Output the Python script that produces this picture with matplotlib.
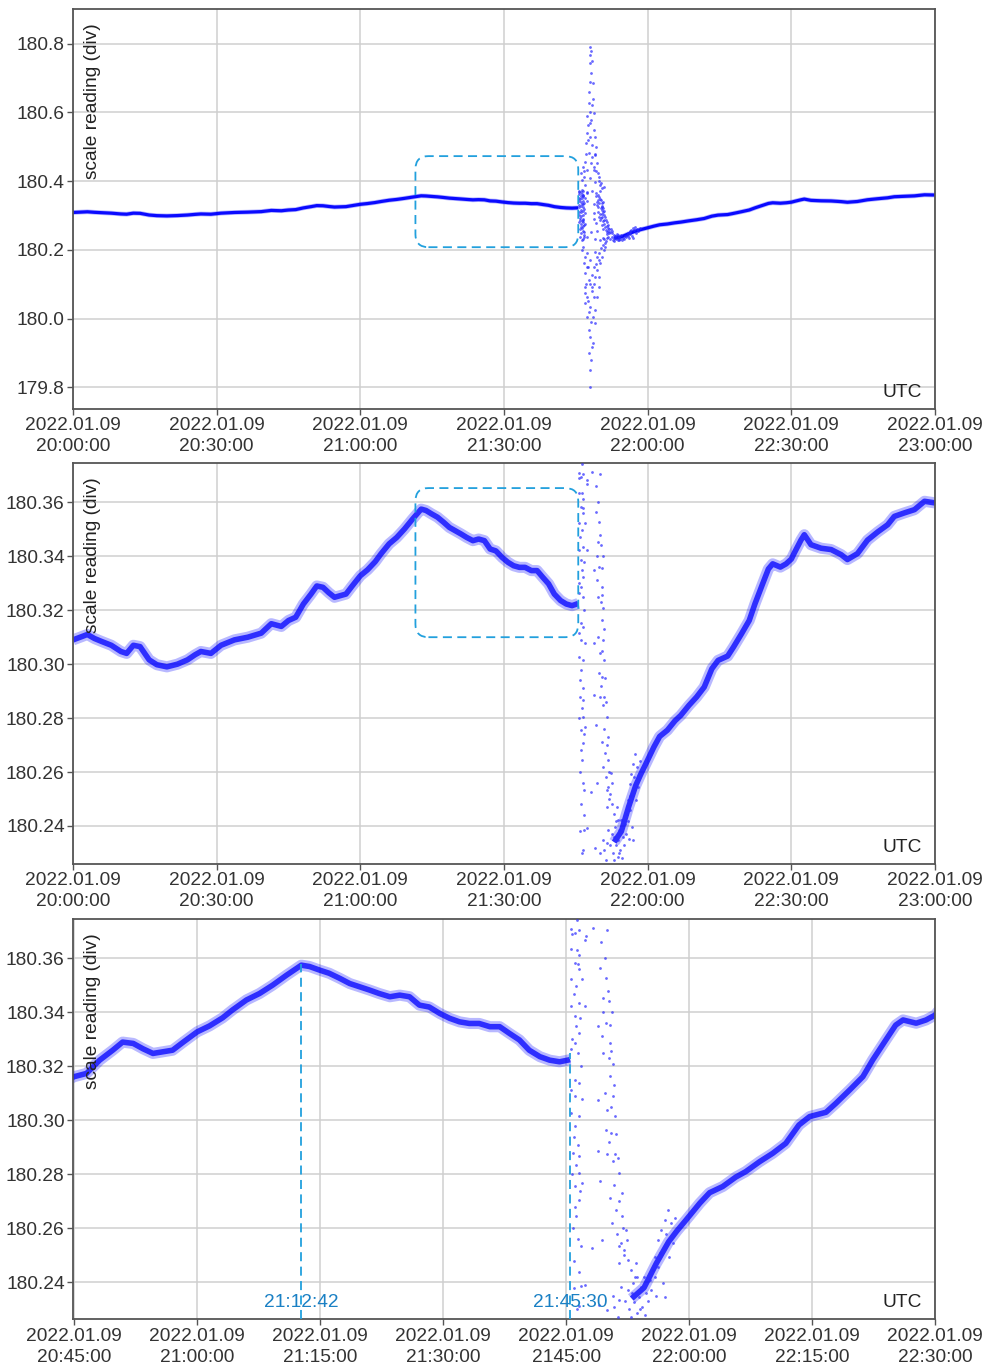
import numpy as np
import matplotlib
matplotlib.use("Agg")
import matplotlib.pyplot as plt
from matplotlib.patches import FancyBboxPatch

plt.rcParams['font.family'] = ['Liberation Sans', 'DejaVu Sans']
plt.rcParams['font.size'] = 13.8

# time axis: minutes after 2022.01.09 20:00:00 UTC
pre_t = [0, 1.5, 3, 4.5, 6, 8, 10, 11.2, 12.6, 14, 15.9, 17.5, 19.6, 21.8, 23.9, 25.5,
         26.7, 28.8, 30.9, 33.7, 36.5, 39.3, 41.4, 43.5, 45, 46.5, 48.1, 49.7, 50.9,
         52.2, 53.4, 54.6, 55.8, 57.0, 58.3, 60, 61.5, 63.1, 64.3, 66, 67.6, 69.2, 70.9,
         72.7, 73.7, 74.9, 76.1, 77.4, 78.6, 79.8, 81.0, 82.2, 83.5, 84.7, 85.9, 87.1,
         88.3, 89.6, 90.8, 92.0, 93.2, 94.4, 95.7, 96.9, 98.1, 99.3, 100.5, 101.8,
         103.0, 104.2, 105.5]
pre_v = [180.309, 180.310, 180.311, 180.3095, 180.3084, 180.307, 180.3047, 180.304,
         180.307, 180.3065, 180.3016, 180.2998, 180.299, 180.300, 180.3016, 180.3035,
         180.3047, 180.304, 180.307, 180.309, 180.310, 180.3115, 180.315, 180.314,
         180.3162, 180.3174, 180.3223, 180.326, 180.329, 180.3285, 180.3265, 180.3248,
         180.3254, 180.326, 180.329, 180.3328, 180.335, 180.338, 180.3409, 180.3446,
         180.347, 180.3501, 180.3538, 180.3575, 180.357, 180.3557, 180.3545, 180.3526,
         180.3507, 180.3495, 180.3483, 180.347, 180.3458, 180.3464, 180.3458, 180.3427,
         180.342, 180.3396, 180.3378, 180.3365, 180.3359, 180.3359, 180.3347, 180.3347,
         180.3322, 180.3298, 180.326, 180.3236, 180.3223, 180.3217, 180.3225]

post_t = [113.0, 114.5, 116.0, 117.5, 118.5, 119.6, 121.3, 122.5, 124.1, 125.7, 126.9,
          128.6, 130.2, 131.8, 133.4, 134.7, 136.7, 137.9, 139.6, 141.2, 142.4, 144.0,
          145.2, 146.1, 147.7, 148.9, 150.0, 150.6, 152.0, 152.7, 154.1, 156.2, 158.3,
          160.4, 161.7, 163.8, 165.9, 168.0, 170.1, 171.5, 173.6, 175.7, 177.8, 180.0]
post_v = [180.234, 180.238, 180.247, 180.255, 180.259, 180.263, 180.2693, 180.2732,
          180.2755, 180.279, 180.281, 180.2847, 180.2878, 180.2915, 180.2983, 180.3014,
          180.303, 180.3063, 180.3113, 180.3162, 180.3224, 180.3298, 180.3353, 180.3372,
          180.336, 180.3372, 180.339, 180.3412, 180.346, 180.348, 180.3443, 180.343,
          180.3425, 180.3406, 180.3388, 180.341, 180.346, 180.349, 180.3517, 180.3548,
          180.3561, 180.3573, 180.3604, 180.3598]

# scattered readings during the disturbance (t, value)
burst_col_a = [(106.34, 180.3742), (105.64, 180.3710), (106.55, 180.3705), (106.06, 180.3695),
               (107.39, 180.3683), (107.25, 180.3668), (105.64, 180.3636), (106.34, 180.3633),
               (106.55, 180.3611), (106.06, 180.3584), (106.55, 180.3559), (106.90, 180.3522),
               (105.64, 180.3522), (106.20, 180.3497), (106.55, 180.3436), (107.25, 180.3423),
               (105.64, 180.3423), (106.06, 180.3386), (106.20, 180.3349), (106.55, 180.3324),
               (106.06, 180.3287), (105.64, 180.3263), (106.76, 180.3201), (106.06, 180.3151),
               (106.55, 180.3139), (105.64, 180.3114), (106.06, 180.3090), (105.64, 180.3028),
               (106.55, 180.3015), (106.06, 180.2978), (105.85, 180.2879), (106.55, 180.2867),
               (106.20, 180.2836), (106.55, 180.2805), (106.90, 180.2768), (106.06, 180.2756),
               (106.55, 180.2706), (106.20, 180.2645), (106.76, 180.2533), (107.25, 180.2391),
               (106.76, 180.2385), (106.55, 180.2311),
               (105.75, 180.3690), (106.45, 180.3580), (105.90, 180.3470), (106.65, 180.3380),
               (105.75, 180.3300), (106.40, 180.3250), (106.90, 180.3080), (105.95, 180.2940),
               (106.40, 180.2910), (105.75, 180.2800), (106.70, 180.2740), (106.10, 180.2680),
               (105.80, 180.2600), (106.45, 180.2560), (106.00, 180.2480), (106.60, 180.2440),
               (105.90, 180.2380), (106.30, 180.2300)]
burst_col_b = [(108.29, 180.3714), (110.03, 180.3705), (109.13, 180.3565), (109.83, 180.3528),
               (109.55, 180.3454), (110.24, 180.3442), (108.85, 180.3349), (109.83, 180.3361),
               (110.38, 180.3355), (109.34, 180.3312), (110.38, 180.3287), (110.52, 180.3256),
               (109.55, 180.3250), (110.73, 180.3207), (110.38, 180.3164), (110.73, 180.3090),
               (108.85, 180.3077), (110.03, 180.3040), (110.94, 180.3015), (109.83, 180.2966),
               (110.52, 180.2954), (108.85, 180.2886), (110.03, 180.2877), (110.94, 180.2877),
               (110.73, 180.2849), (111.43, 180.2805), (109.13, 180.2774), (111.78, 180.2731),
               (110.38, 180.2713), (111.08, 180.2669), (111.78, 180.2645), (108.15, 180.2527),
               (112.33, 180.2595), (112.47, 180.2558), (109.34, 180.2558), (111.43, 180.2533),
               (109.00, 180.2317), (110.73, 180.2348), (110.03, 180.2299), (111.43, 180.2336),
               (109.30, 180.3660), (109.70, 180.3600), (110.10, 180.3480), (109.45, 180.3400),
               (110.60, 180.3400), (110.20, 180.3230), (110.90, 180.3130), (109.70, 180.3100),
               (110.50, 180.3050), (111.10, 180.2950), (110.20, 180.2920), (111.30, 180.2860),
               (110.80, 180.2760), (111.50, 180.2700), (110.60, 180.2620), (111.90, 180.2600),
               (111.20, 180.2580), (112.00, 180.2500)]
burst_cluster = [(111.7, 180.2544), (112.1, 180.2520), (112.5, 180.2483), (111.5, 180.2470),
                 (112.9, 180.2446), (113.5, 180.2470), (113.7, 180.2421), (113.1, 180.2396),
                 (114.1, 180.2384), (114.5, 180.2421), (114.8, 180.2359), (113.9, 180.2347),
                 (113.3, 180.2328), (114.3, 180.2310), (113.7, 180.2285), (112.9, 180.2273),
                 (111.3, 180.2273), (111.7, 180.2384), (110.9, 180.2310), (112.5, 180.2371),
                 (115.2, 180.2409), (115.6, 180.2446), (115.8, 180.2495), (116.2, 180.2557),
                 (116.6, 180.2594), (117.0, 180.2631), (117.4, 180.2668), (117.6, 180.2495),
                 (118.0, 180.2544), (116.2, 180.2458), (116.8, 180.2396), (117.0, 180.2347),
                 (115.4, 180.2372), (112.2, 180.2330), (113.0, 180.2360), (114.0, 180.2300),
                 (114.6, 180.2280), (115.0, 180.2330), (115.9, 180.2420), (116.4, 180.2510),
                 (117.2, 180.2580), (117.8, 180.2620), (118.3, 180.2640), (116.0, 180.2350),
                 (113.4, 180.2420), (112.7, 180.2300)]
burst_wide = [(108.0, 180.7914), (108.0, 180.7671), (108.0, 180.7429), (108.2, 180.7138),
              (108.5, 180.6847), (107.67, 180.6604), (107.8, 180.6265), (108.36, 180.6216),
              (108.0, 180.6022), (108.7, 180.5974), (108.2, 180.5780), (107.5, 180.5634),
              (107.3, 180.5392), (108.7, 180.5489), (108.0, 180.5295), (109.06, 180.5295),
              (107.1, 180.5101), (108.36, 180.5052), (109.2, 180.5004), (107.67, 180.4810),
              (108.9, 180.4761), (107.0, 180.4567), (108.2, 180.4518), (109.4, 180.4518),
              (107.3, 180.4324), (108.7, 180.4324), (109.6, 180.4228), (106.6, 180.4130),
              (108.0, 180.4082), (109.06, 180.3985), (106.14, 180.4228), (106.4, 180.4420),
              (106.27, 180.4033), (106.83, 180.3888), (109.9, 180.4130), (110.3, 180.3937),
              (110.8, 180.3840),
              (106.8, 180.4300), (107.2, 180.4800), (107.6, 180.5200), (108.4, 180.4700),
              (108.8, 180.4400), (109.3, 180.4300), (109.8, 180.4000), (107.9, 180.5700),
              (108.6, 180.6400), (107.9, 180.6900), (108.3, 180.7500), (108.1, 180.7800),
              (107.4, 180.5900), (109.0, 180.4800), (110.0, 180.3900), (110.5, 180.3800),
              (106.27, 180.1996), (107.32, 180.1899), (109.06, 180.1948), (109.75, 180.1705),
              (106.62, 180.1608), (108.0, 180.1705), (108.71, 180.1511), (106.97, 180.1317),
              (109.41, 180.1414), (107.67, 180.1123), (109.06, 180.1220), (106.83, 180.0929),
              (108.36, 180.0929), (109.75, 180.0929), (107.32, 180.0638), (108.71, 180.0638),
              (106.97, 180.0444), (108.0, 180.0347), (109.06, 180.0250), (107.32, 180.0056),
              (108.5, 180.0056), (107.67, 179.9668), (109.06, 179.9862), (108.0, 179.9474),
              (108.36, 179.9183), (107.8, 179.8989), (108.0, 179.8504), (108.0, 179.8019),
              (106.97, 180.0735), (109.41, 180.0638), (110.1, 180.1608), (110.45, 180.1802),
              (110.8, 180.1996), (111.15, 180.2093), (109.75, 180.1220), (108.36, 180.1269),
              (107.53, 180.1511),
              (106.5, 180.2100), (106.9, 180.1800), (107.4, 180.1500), (107.9, 180.1000),
              (108.3, 180.0800), (108.8, 180.1000), (109.3, 180.1600), (109.9, 180.1900),
              (110.3, 180.2050), (107.1, 180.1000), (107.7, 180.0200), (108.2, 179.9900),
              (108.6, 179.9300), (108.1, 179.8800), (107.6, 180.0500), (109.5, 180.1800),
              (110.6, 180.2150), (111.0, 180.2200)]

burst = np.array(burst_col_a + burst_col_b + burst_cluster + burst_wide)
burst_t, burst_v = burst[:, 0], burst[:, 1]

# annotations
box_t = (71.5, 105.5)
box1_v = (180.208, 180.473)
box2_v = (180.310, 180.3653)
mark_t = [72.7, 105.5]
mark_top = [180.358, 180.325]
mark_labels = ['21:12:42', '21:45:30']

ticks_full = [0, 30, 60, 90, 120, 150, 180]
labels_full = ['2022.01.09\n20:00:00', '2022.01.09\n20:30:00', '2022.01.09\n21:00:00',
               '2022.01.09\n21:30:00', '2022.01.09\n22:00:00', '2022.01.09\n22:30:00',
               '2022.01.09\n23:00:00']
ticks_zoom = [45, 60, 75, 90, 105, 120, 135, 150]
labels_zoom = ['2022.01.09\n20:45:00', '2022.01.09\n21:00:00', '2022.01.09\n21:15:00',
               '2022.01.09\n21:30:00', '2022.01.09\n2145:00', '2022.01.09\n22:00:00',
               '2022.01.09\n22:15:00', '2022.01.09\n22:30:00']
yticks_wide = [179.8, 180.0, 180.2, 180.4, 180.6, 180.8]
yticks_fine = [180.24, 180.26, 180.28, 180.30, 180.32, 180.34, 180.36]

line_color = '#0000ff'
box_color = '#22a0dd'
mark_text_color = '#1a80c4'


def style_axes(ax, xlim, ylim, yticks, yfmt, xticks, xlabels):
    ax.set_xlim(*xlim)
    ax.set_ylim(*ylim)
    ax.set_yticks(yticks)
    ax.set_yticklabels([yfmt % v for v in yticks])
    ax.set_xticks(xticks)
    ax.set_xticklabels(xlabels, linespacing=1.3)
    ax.grid(True, color='#cfcfcf', lw=1.1)
    ax.set_axisbelow(True)
    for s in ax.spines.values():
        s.set_color('#555555')
        s.set_linewidth(1.3)
    ax.tick_params(direction='out', length=4, width=1, color='#555555',
                   labelcolor='#333333', labelsize=13.8, pad=2)
    ax.text(0.023, 0.965, 'scale reading (div)', rotation=90, ha='center', va='top',
            transform=ax.transAxes, color='#222222')
    ax.text(0.985, 0.042, 'UTC', ha='right', va='center', transform=ax.transAxes,
            color='#222222')


def draw_data(ax, core, halo, core_alpha):
    for t, v in ((pre_t, pre_v), (post_t, post_v)):
        ax.plot(t, v, color=line_color, lw=halo, alpha=0.28, solid_capstyle='butt')
        ax.plot(t, v, color=line_color, lw=core, alpha=core_alpha, solid_capstyle='butt')
    ax.scatter(burst_t, burst_v, s=4, color='#2a2aff', alpha=0.7, linewidths=0, zorder=3)


def round_box(ax, trange, vrange, radius_px=13):
    bb = ax.get_window_extent()
    x0, x1 = ax.get_xlim()
    y0, y1 = ax.get_ylim()
    xpp = (x1 - x0) / bb.width
    ypp = (y1 - y0) / bb.height
    patch = FancyBboxPatch((trange[0], vrange[0]), trange[1] - trange[0], vrange[1] - vrange[0],
                           boxstyle="round,pad=0,rounding_size=%f" % (radius_px * xpp),
                           mutation_aspect=ypp / xpp, fill=False, ec=box_color, lw=1.3,
                           ls=(0, (5, 3)), zorder=4)
    ax.add_patch(patch)


fig = plt.figure(figsize=(9.88, 13.69), dpi=100)
ax1 = fig.add_axes([0.0739, 0.7012, 0.8725, 0.2922])
ax2 = fig.add_axes([0.0739, 0.3689, 0.8725, 0.2927])
ax3 = fig.add_axes([0.0739, 0.0363, 0.8725, 0.2924])

style_axes(ax1, (0, 180), (179.737, 180.901), yticks_wide, '%.1f', ticks_full, labels_full)
draw_data(ax1, 2.3, 3.4, 0.95)
round_box(ax1, box_t, box1_v)

style_axes(ax2, (0, 180), (180.2259, 180.3745), yticks_fine, '%.2f', ticks_full, labels_full)
draw_data(ax2, 4.0, 8.0, 0.75)
round_box(ax2, box_t, box2_v)

style_axes(ax3, (44.85, 150), (180.2263, 180.3746), yticks_fine, '%.2f', ticks_zoom, labels_zoom)
draw_data(ax3, 4.0, 8.0, 0.75)
for t, top, lab in zip(mark_t, mark_top, mark_labels):
    ax3.plot([t, t], [180.2263, top], color=box_color, lw=1.3, ls=(0, (5, 3)), zorder=4)
    ax3.text(t, 0.042, lab, ha='center', va='center', color=mark_text_color,
             transform=ax3.get_xaxis_transform(), zorder=5)

fig.savefig('out.png', dpi=100)
